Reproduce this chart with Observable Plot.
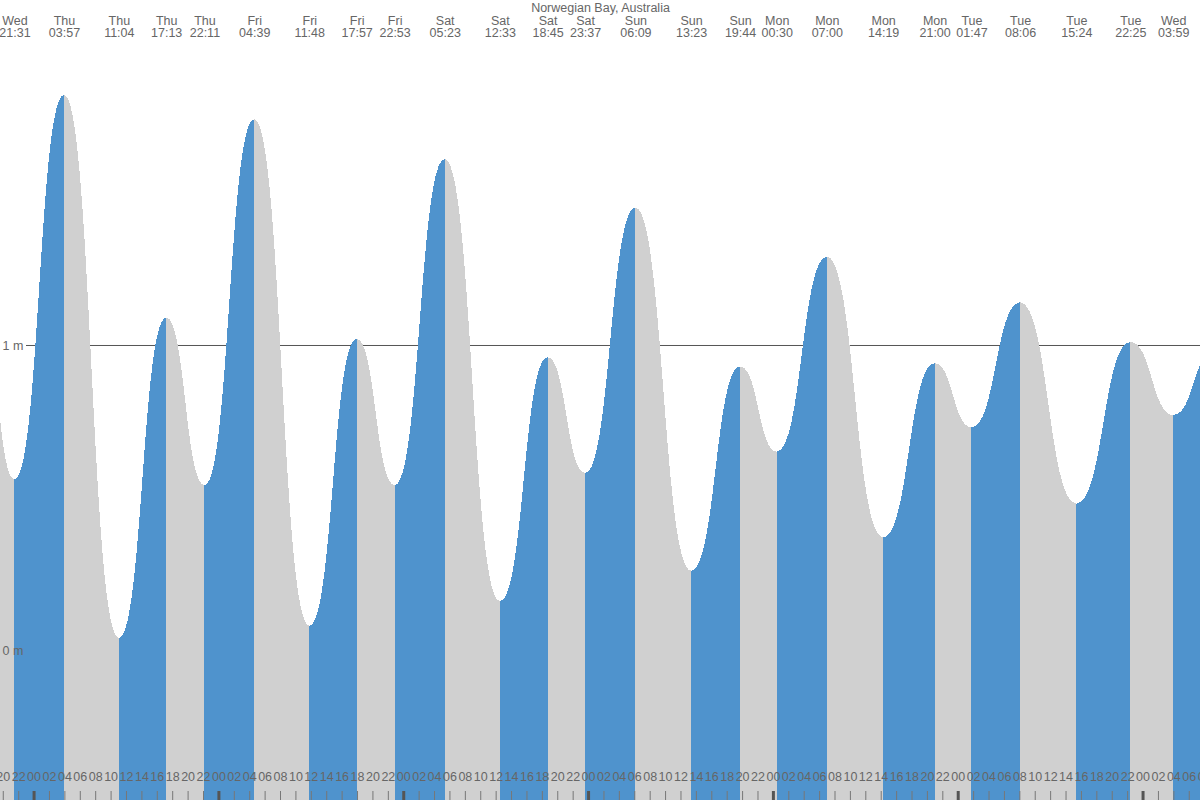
<!DOCTYPE html>
<html>
<head>
<meta charset="utf-8">
<script src="https://cdn.jsdelivr.net/npm/d3@7"></script>
<script src="https://cdn.jsdelivr.net/npm/@observablehq/plot@0.6"></script>
<style>
  html, body { margin: 0; padding: 0; background: #fff; overflow: hidden; }
</style>
</head>
<body>
<div id="chart"></div>
<script>
// ---- Data ----
const title = "Norwegian Bay, Australia";
// tide extremes: day name, local time, height (m); first and last lie just outside the view
const extremeDays = ["Wed","Wed","Thu","Thu","Thu","Thu","Fri","Fri","Fri","Fri","Sat","Sat","Sat","Sat","Sun","Sun","Sun","Mon","Mon","Mon","Mon","Tue","Tue","Tue","Tue","Wed","Wed"];
const extremeTimes = ["17:00","21:31","03:57","11:04","17:13","22:11","04:39","11:48","17:57","22:53","05:23","12:33","18:45","23:37","06:09","13:23","19:44","00:30","07:00","14:19","21:00","01:47","08:06","15:24","22:25","03:59","09:15"];
const extremeHeights = [1.15,0.56,1.82,0.04,1.09,0.54,1.74,0.08,1.02,0.54,1.61,0.16,0.96,0.58,1.45,0.26,0.93,0.65,1.29,0.37,0.94,0.73,1.14,0.48,1.01,0.77,0.98];
// y-axis labels
const levelValues = [0, 1];
const levelLabels = ["0 m", "1 m"];
// bottom hour ticks (hours from Thursday 00:00), every two hours
const hourTicks = d3.range(-4, 156, 2);

// ---- Scales setup ----
const xDomain = [-4.36, 151.46];        // hours from Thursday 00:00
const yDomain = [-0.4918, 2.1311];      // metres
const blue = "#4f93cd";
const grey = "#d0d0d0";
const textColor = "#666666";

// ---- Build table ----
let dayIdx = -1;
const extremes = extremeDays.map((d, i) => {
  if (i > 0 && d !== extremeDays[i - 1]) dayIdx++;
  const [hh, mm] = extremeTimes[i].split(":").map(Number);
  return { day: d, time: extremeTimes[i], h: extremeHeights[i], t: dayIdx * 24 + hh + mm / 60 };
});
const segs = [];
for (let i = 0; i < extremes.length - 1; i++) {
  const a = extremes[i], b = extremes[i + 1];
  const rising = b.h > a.h;
  segs.push({ seg: i, t: a.t, h: a.h, rising });
  segs.push({ seg: i, t: b.t, h: b.h, rising });
}
const visible = extremes.filter(e => e.t >= xDomain[0] && e.t <= xDomain[1]);
const pad = h => String(((h % 24) + 24) % 24).padStart(2, "0");

const chart = Plot.plot({
  width: 1200,
  height: 800,
  margin: 0,
  x: { domain: xDomain, axis: null },
  y: { domain: yDomain, axis: null },
  style: { fontFamily: "'Liberation Sans', Arial, sans-serif", background: "#fff" },
  marks: [
    Plot.ruleY([1], { stroke: "#555", strokeWidth: 1, insetLeft: 26 }),
    Plot.areaY(segs.filter(d => d.rising), {
      x: "t", y1: yDomain[0], y2: "h", z: "seg", fill: blue,
      curve: "bump-x", clip: true, shapeRendering: "crispEdges"
    }),
    Plot.areaY(segs.filter(d => !d.rising), {
      x: "t", y1: yDomain[0], y2: "h", z: "seg", fill: grey,
      curve: "bump-x", clip: true, shapeRendering: "crispEdges"
    }),
    Plot.text(levelValues, {
      y: d => d, text: (d, i) => levelLabels[i], frameAnchor: "left",
      textAnchor: "start", dx: 2, dy: 1, fill: textColor, fontSize: 12.5
    }),
    Plot.text([title], {
      text: d => d, frameAnchor: "top", dy: 3, fill: textColor, fontSize: 12.5
    }),
    Plot.text(visible, {
      x: "t", text: "day", frameAnchor: "top", dy: 15.5, fill: textColor, fontSize: 12.5
    }),
    Plot.text(visible, {
      x: "t", text: "time", frameAnchor: "top", dy: 27.5, fill: textColor, fontSize: 12.5
    }),
    Plot.text(hourTicks, {
      x: d => d, text: d => pad(d), frameAnchor: "bottom", dy: -20, fill: textColor, fontSize: 12.5
    }),
    Plot.ruleX(hourTicks.filter(d => d % 24 !== 0), {
      x: d => d, insetTop: 791, stroke: "#777", strokeWidth: 1
    }),
    Plot.ruleX(hourTicks.filter(d => d % 24 === 0), {
      x: d => d, insetTop: 791, stroke: "#555", strokeWidth: 3
    })
  ]
});
document.getElementById("chart").appendChild(chart);
</script>
</body>
</html>
